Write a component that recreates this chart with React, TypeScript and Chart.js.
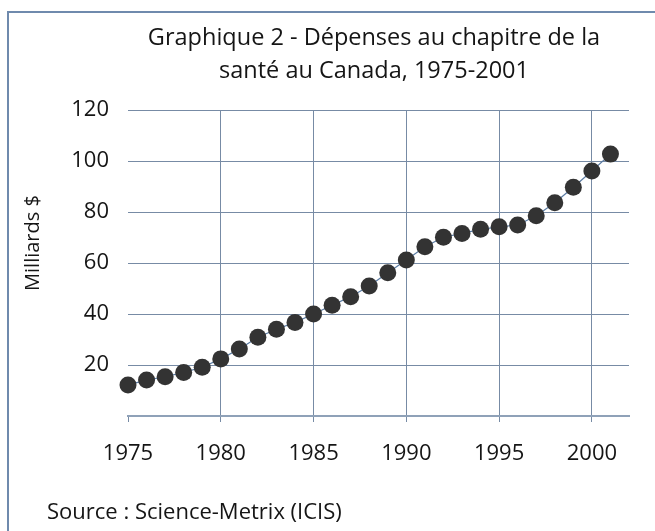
import React, { useEffect, useRef } from "react";
import { Chart, registerables } from "chart.js";

Chart.register(...registerables);

const years = [1975, 1976, 1977, 1978, 1979, 1980, 1981, 1982, 1983, 1984, 1985, 1986, 1987, 1988, 1989, 1990, 1991, 1992, 1993, 1994, 1995, 1996, 1997, 1998, 1999, 2000, 2001];
const spending = [12.2, 14.1, 15.4, 17.1, 19.1, 22.4, 26.3, 30.9, 34.0, 36.7, 40.0, 43.4, 46.8, 51.0, 56.2, 61.2, 66.4, 70.1, 71.6, 73.2, 74.2, 74.9, 78.5, 83.6, 89.7, 96.1, 102.7];
const titleLines = ["Graphique 2 - Dépenses au chapitre de la", "santé au Canada, 1975-2001"];
const yTitle = "Milliards $";
const sourceText = "Source : Science-Metrix (ICIS)";
const xTicks = [1975, 1980, 1985, 1990, 1995, 2000];
const yTicks = [20, 40, 60, 80, 100, 120];

const GRID = "#778ba5";
const FONT = "'Open Sans', 'Noto Sans', sans-serif";
const TEXT = "#151515";

const extrasPlugin = {
  id: "extras",
  beforeDraw(chart: any) {
    const ctx = chart.ctx;
    ctx.save();
    ctx.fillStyle = "#ffffff";
    ctx.fillRect(0, 0, chart.width, chart.height);
    ctx.strokeStyle = "#6f8aad";
    ctx.lineWidth = 2;
    ctx.beginPath();
    ctx.moveTo(8, chart.height + 5);
    ctx.lineTo(8, 12);
    ctx.lineTo(chart.width + 5, 12);
    ctx.stroke();
    ctx.restore();
  },
  afterDraw(chart: any) {
    const ctx = chart.ctx;
    ctx.save();
    ctx.fillStyle = TEXT;
    ctx.textBaseline = "middle";
    ctx.textAlign = "center";
    ctx.font = `23.5px ${FONT}`;
    ctx.fillText(titleLines[0], 374, 38);
    ctx.fillText(titleLines[1], 374, 71);
    ctx.font = `22px ${FONT}`;
    ctx.textAlign = "left";
    ctx.fillText(sourceText, 47, 513);
    ctx.font = `20px ${FONT}`;
    ctx.translate(33, 243);
    ctx.rotate(-Math.PI / 2);
    ctx.textAlign = "center";
    ctx.fillText(yTitle, 0, 0);
    ctx.restore();
  },
};

export default function App() {
  const ref = useRef<HTMLCanvasElement | null>(null);
  useEffect(() => {
    if (!ref.current) return;
    const chart = new Chart(ref.current, {
      type: "line",
      data: {
        datasets: [
          {
            data: years.map((y, i) => ({ x: y, y: spending[i] })),
            borderColor: "#5a7ba3",
            borderWidth: 1.2,
            pointRadius: 8.5,
            pointBackgroundColor: "#333333",
            pointBorderColor: "#333333",
            pointBorderWidth: 0,
            tension: 0,
            clip: false,
          } as any,
        ],
      },
      options: {
        responsive: false,
        animation: false,
        layout: { padding: { left: 0, right: 26, top: 110, bottom: 0 } },
        plugins: {
          legend: { display: false },
          tooltip: { enabled: false },
          title: { display: false },
        },
        scales: {
          x: {
            type: "linear",
            min: 1975,
            max: 2002,
            afterBuildTicks(scale: any) {
              scale.ticks = xTicks.map((v) => ({ value: v }));
            },
            afterFit(scale: any) {
              scale.height = 115;
            },
            ticks: {
              color: TEXT,
              font: { family: FONT, size: 22 },
              padding: 19,
              maxRotation: 0,
              callback: (v: any) => String(v),
            },
            grid: {
              color: (c: any) => (c.tick && c.tick.value === 1975 ? "rgba(0,0,0,0)" : GRID),
              tickColor: GRID,
              tickLength: 6,
              lineWidth: 1,
            },
            border: { display: true, color: "#8fa1b8", width: 2 },
          },
          y: {
            min: 0,
            max: 120,
            afterBuildTicks(scale: any) {
              scale.ticks = [0, ...yTicks].map((v) => ({ value: v }));
            },
            afterFit(scale: any) {
              scale.width = 128;
            },
            ticks: {
              color: TEXT,
              font: { family: FONT, size: 22 },
              padding: 19,
              callback: (v: any) => (v === 0 ? "" : String(v)),
            },
            grid: {
              color: (c: any) => (c.tick && c.tick.value === 0 ? "rgba(0,0,0,0)" : GRID),
              lineWidth: 1,
              drawTicks: false,
            },
            border: { display: false },
          },
        },
      },
      plugins: [extrasPlugin],
    });
    return () => chart.destroy();
  }, []);
  return (
    <div style={{ position: "fixed", left: 0, top: 0, width: 655, height: 531, overflow: "hidden" }}>
      <canvas ref={ref} width={655} height={531} style={{ display: "block" }} />
    </div>
  );
}
